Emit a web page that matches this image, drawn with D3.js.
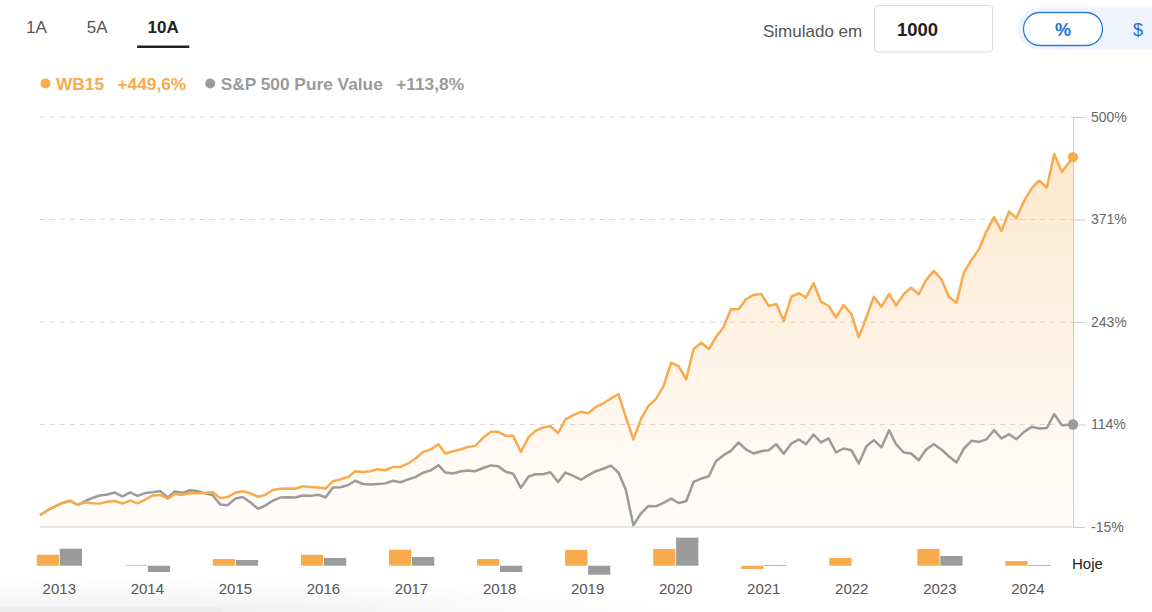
<!DOCTYPE html>
<html><head><meta charset="utf-8">
<script src="https://cdn.jsdelivr.net/npm/d3@7"></script>
<style>
html,body{margin:0;padding:0;background:#fff;}
svg{display:block;font-family:"Liberation Sans",Arial,Helvetica,sans-serif;}
</style></head><body>
<svg id="chart" width="1152" height="612"></svg>
<script>
// ---------- DATA ----------
const periods = ["1A", "5A", "10A"];
const activePeriod = "10A";
const simulatedLabel = "Simulado em";
const simulatedAmount = "1000";
const unitOptions = ["%", "$"];
const seriesNames = ["WB15", "S&P 500 Pure Value"];
const seriesTotals = ["+449,6%", "+113,8%"];

// monthly points (month ends) from Aug 2013 to Dec 2024, then "today"
const firstMonth = "2013-09-01";
const monthStop = "2025-02-01";
const todayDate = "2025-02-15";

const wb15 = [
  0, 5.8, 11.0, 15.2, 18.2, 12.7, 16.1, 14.9, 14.4, 16.7,
  17.7, 14.4, 18.2, 14.6, 19.5, 24.6, 25.3, 20.5, 26.4, 25.3,
  27.8, 27.4, 27.6, 28.9, 21.1, 22.6, 28.0, 29.9, 27.4, 23.0,
  25.3, 31.4, 33.1, 33.3, 33.1, 36.2, 35.3, 34.6, 33.3, 42.5,
  45.0, 47.9, 55.1, 54.2, 55.1, 57.6, 56.3, 60.5, 60.5, 64.8,
  71.0, 79.4, 82.4, 89.0, 77.3, 80.2, 82.4, 85.6, 86.9, 97.0,
  104.5, 104.5, 99.5, 99.5, 79.4, 97.5, 105.8, 110.0, 111.7, 102.9,
  120.1, 125.5, 129.7, 127.7, 136.0, 140.2, 146.5, 151.9, 123.4, 95.0,
  120.1, 137.2, 145.6, 162.0, 191.3, 187.2, 170.4, 208.5, 216.5, 208.5,
  223.3, 235.8, 258.5, 258.5, 271.1, 276.5, 277.7, 262.6, 265.2, 243.8,
  274.3, 278.6, 273.1, 291.2, 268.1, 262.6, 248.4, 263.9, 252.6, 223.3,
  248.4, 274.3, 261.8, 277.7, 263.0, 277.4, 285.7, 277.4, 295.3, 306.7,
  296.2, 274.3, 266.8, 304.5, 320.5, 334.4, 356.1, 374.2, 357.0, 381.3,
  373.0, 394.7, 410.7, 420.3, 411.5, 453.5, 430.8, 449.6
];
const spPureValue = [
  0, 5.8, 11.0, 15.2, 17.7, 12.9, 17.1, 21.5, 24.6, 25.8,
  28.3, 23.6, 28.4, 24.1, 27.6, 28.7, 30.3, 22.1, 29.5, 27.9,
  31.2, 30.2, 27.3, 25.1, 13.4, 12.3, 20.7, 22.6, 16.1, 7.9,
  11.9, 18.0, 21.9, 22.4, 22.0, 24.5, 24.1, 25.5, 22.4, 34.7,
  34.9, 37.7, 43.1, 39.0, 38.3, 39.0, 39.8, 43.1, 41.2, 44.8,
  47.8, 53.2, 56.1, 62.6, 53.4, 52.2, 54.8, 56.1, 55.1, 59.1,
  62.4, 61.4, 54.4, 51.9, 34.1, 48.2, 51.3, 51.3, 53.8, 41.6,
  53.4, 49.2, 44.4, 49.8, 55.1, 58.2, 62.0, 53.2, 32.0, -12.9,
  1.9, 11.4, 11.0, 15.2, 20.7, 15.2, 17.3, 41.6, 45.9, 48.8,
  67.7, 75.2, 80.6, 91.2, 82.4, 77.3, 80.2, 81.5, 88.8, 77.1,
  89.9, 95.0, 89.0, 101.2, 91.2, 96.2, 78.6, 83.6, 81.5, 64.8,
  86.5, 94.1, 84.9, 106.6, 89.0, 78.6, 77.3, 68.9, 82.4, 89.0,
  82.4, 73.9, 66.0, 83.6, 93.2, 91.9, 95.0, 106.6, 96.2, 101.6,
  95.3, 104.5, 110.8, 108.8, 109.5, 126.8, 112.9, 113.8
];

const yDomain = [-15, 500];
const yTicks = [-15, 113.75, 242.5, 371.25, 500];

const years = ["2013","2014","2015","2016","2017","2018","2019","2020","2021","2022","2023","2024"];
const wb15Annual = [18.3, 1.3, 11.2, 18.3, 26.7, 11.2, 26.2, 27.8, -5.5, 12.8, 27.8, 7.8];
const spAnnual   = [28.3, -10.5, 9.5, 12.8, 14.5, -10.5, -15.0, 46.7, 1.2, 0, 16.2, 1.2];
const todayLabel = "Hoje";

// ---------- STYLE ----------
const ORANGE = "#f9aa4c";
const GRAY = "#9b9b9b";

const svg = d3.select("#chart");

// bottom-left faint shadow (from a floating element)
const defs = svg.append("defs");
const sh = defs.append("radialGradient").attr("id","shadow").attr("cx","0.3").attr("cy","1").attr("r","0.7");
sh.append("stop").attr("offset","0").attr("stop-color","#000").attr("stop-opacity",0.07);
sh.append("stop").attr("offset","1").attr("stop-color","#000").attr("stop-opacity",0);
svg.append("rect").attr("x",-100).attr("y",560).attr("width",800).attr("height",60).attr("fill","url(#shadow)");
svg.append("rect").attr("x",-10).attr("y",607).attr("width",232).attr("height",12).attr("rx",5).attr("fill","#ededed");

// ---------- HEADER ----------
const tabs = svg.append("g").attr("font-size", 17);
let tx = 26;
periods.forEach(p => {
  const t = tabs.append("text").attr("x", tx).attr("y", 33)
    .attr("font-weight", p === activePeriod ? "bold" : "normal")
    .attr("fill", p === activePeriod ? "#222" : "#555")
    .text(p);
  const w = t.node().getComputedTextLength();
  if (p === activePeriod) {
    tabs.append("rect").attr("x", tx - 10.5).attr("y", 45.5).attr("width", w + 21).attr("height", 2.5).attr("fill", "#222");
  }
  tx += w + 40;
});

svg.append("text").attr("x", 763).attr("y", 37).attr("font-size", 17).attr("fill", "#555").text(simulatedLabel);
svg.append("rect").attr("x", 874.5).attr("y", 5.5).attr("width", 118).attr("height", 46.5).attr("rx", 3)
  .attr("fill", "#fff").attr("stroke", "#dcdcdc");
svg.append("text").attr("x", 897).attr("y", 36).attr("font-size", 18.5).attr("font-weight", "bold").attr("fill", "#222").text(simulatedAmount);

svg.append("rect").attr("x", 1018).attr("y", 7.5).attr("width", 170).attr("height", 42).attr("rx", 21).attr("fill", "#eef4fd");
svg.append("rect").attr("x", 1023.5).attr("y", 12.5).attr("width", 79).attr("height", 33).attr("rx", 16.5)
  .attr("fill", "#fff").attr("stroke", "#2b7be0").attr("stroke-width", 1.3);
svg.append("text").attr("x", 1063).attr("y", 36).attr("text-anchor","middle").attr("font-size", 18).attr("font-weight","bold").attr("fill", "#2171dd").text(unitOptions[0]);
svg.append("text").attr("x", 1138).attr("y", 36).attr("text-anchor","middle").attr("font-size", 18).attr("fill", "#2171dd").text(unitOptions[1]);

// ---------- LEGEND ----------
const leg = svg.append("g").attr("font-size", 17.3).attr("font-weight", "bold");
const legendColors = [ORANGE, "#9a9a9a"];
let lx = 40.5;
seriesNames.forEach((name, i) => {
  leg.append("circle").attr("cx", lx + 5).attr("cy", 83.5).attr("r", 5).attr("fill", legendColors[i]);
  const t1 = leg.append("text").attr("x", lx + 15.5).attr("y", 90).attr("fill", legendColors[i]).text(name);
  const w1 = t1.node().getComputedTextLength();
  const t2 = leg.append("text").attr("x", lx + 15.5 + w1 + 13.5).attr("y", 90).attr("fill", legendColors[i]).text(seriesTotals[i]);
  const w2 = t2.node().getComputedTextLength();
  lx = lx + 15.5 + w1 + 13.5 + w2 + 19;
});

// ---------- LINE CHART ----------
const dates = d3.utcMonth.range(new Date(firstMonth), new Date(monthStop));
dates.push(new Date(todayDate));

const x = d3.scaleUtc().domain([dates[0], dates[dates.length - 1]]).range([40, 1073]);
const y = d3.scaleLinear().domain(yDomain).range([527, 117]);

// grid
svg.append("g").selectAll("line").data(yTicks.slice(1)).join("line")
  .attr("x1", 40).attr("x2", 1073).attr("y1", d => y(d)).attr("y2", d => y(d))
  .attr("stroke", "#d9d9d9").attr("stroke-dasharray", "5,5");
svg.append("line").attr("x1", 40).attr("x2", 1073).attr("y1", y(yDomain[0])).attr("y2", y(yDomain[0]))
  .attr("stroke", "#d0d0d0");

// area gradient
const grad = defs.append("linearGradient").attr("id", "areaGrad")
  .attr("gradientUnits", "userSpaceOnUse").attr("x1", 0).attr("x2", 0).attr("y1", y(yDomain[1])).attr("y2", y(yDomain[0]));
grad.append("stop").attr("offset", 0).attr("stop-color", ORANGE).attr("stop-opacity", 0.3);
grad.append("stop").attr("offset", 1).attr("stop-color", ORANGE).attr("stop-opacity", 0.02);

const area = d3.area().x((d, i) => x(dates[i])).y0(y(yDomain[0])).y1(d => y(d));
svg.append("path").datum(wb15).attr("d", area).attr("fill", "url(#areaGrad)");

const line = d3.line().x((d, i) => x(dates[i])).y(d => y(d));
svg.append("path").datum(spPureValue).attr("d", line).attr("fill", "none")
  .attr("stroke", GRAY).attr("stroke-width", 2.5).attr("stroke-linejoin", "round");
svg.append("path").datum(wb15).attr("d", line).attr("fill", "none")
  .attr("stroke", ORANGE).attr("stroke-width", 2.5).attr("stroke-linejoin", "round");

// axis
const axis = d3.axisRight(y).tickValues(yTicks).tickSize(12).tickSizeOuter(0).tickPadding(6)
  .tickFormat(d => Math.round(d) + "%");
const ag = svg.append("g").attr("transform", "translate(1073,0)").call(axis);
ag.select(".domain").attr("stroke", "#cccccc");
ag.selectAll(".tick line").attr("stroke", "#cccccc");
ag.selectAll(".tick text").attr("fill", "#666").attr("font-size", 14).attr("font-family", "Liberation Sans, Arial, sans-serif");

// end dots
const n = dates.length - 1;
svg.append("circle").attr("cx", x(dates[n])).attr("cy", y(spPureValue[n])).attr("r", 5.2).attr("fill", GRAY);
svg.append("circle").attr("cx", x(dates[n])).attr("cy", y(wb15[n])).attr("r", 5.2).attr("fill", ORANGE);

// ---------- ANNUAL BARS ----------
const bx = d3.scalePoint().domain(years).range([59.3, 1027.9]);
const bInner = d3.scaleBand().domain([0, 1]).range([-22.5, 22.7]).paddingInner(0.03);
const by = d3.scaleLinear().domain([-20, 50]).range([577.7, 535.7]);
const barData = [];
years.forEach((yr, i) => {
  barData.push({ yr, k: 0, v: wb15Annual[i], c: ORANGE });
  barData.push({ yr, k: 1, v: spAnnual[i], c: GRAY });
});
svg.append("g").selectAll("rect").data(barData.filter(d => d.v !== 0)).join("rect")
  .attr("x", d => bx(d.yr) + bInner(d.k))
  .attr("width", bInner.bandwidth())
  .attr("y", d => Math.min(by(d.v), by(0)))
  .attr("height", d => Math.abs(by(d.v) - by(0)))
  .attr("fill", d => d.c);

svg.append("g").selectAll("text").data(years).join("text")
  .attr("x", d => bx(d)).attr("y", 594).attr("text-anchor", "middle")
  .attr("font-size", 15).attr("fill", "#555").text(d => d);
svg.append("text").attr("x", 1072).attr("y", 569).attr("font-size", 15).attr("fill", "#222").text(todayLabel);
</script>
</body></html>
